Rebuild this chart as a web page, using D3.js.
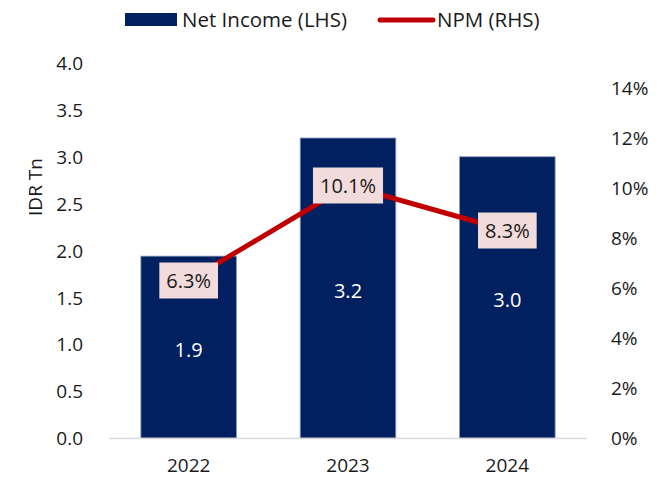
<!DOCTYPE html>
<html>
<head>
<meta charset="utf-8">
<script src="https://cdn.jsdelivr.net/npm/d3@7"></script>
<style>
  body { margin: 0; background: #fff; }
  text { font-family: "Open Sans", "Noto Sans", sans-serif; fill: #1a1a1a; }
</style>
</head>
<body>
<div id="chart"></div>
<script>
// chart data
const years = ["2022", "2023", "2024"];
const netIncome = [1.94, 3.2, 3.0];
const netIncomeLabels = ["1.9", "3.2", "3.0"];
const npm = [6.3, 10.1, 8.3];
const leftTicks = [0, 0.5, 1, 1.5, 2, 2.5, 3, 3.5, 4];
const rightTicks = [0, 2, 4, 6, 8, 10, 12, 14];

const width = 668, height = 484;
const margin = {left: 109, right: 81, top: 63, bottom: 46};

let svg = d3.select("#chart").append("svg")
    .attr("width", width)
    .attr("height", height);

let x = d3.scaleBand()
    .domain(years)
    .range([margin.left, width - margin.right])
    .paddingInner(0.4)
    .paddingOuter(0.2);

let yL = d3.scaleLinear()
    .domain([0, 4])
    .range([height - margin.bottom, margin.top]);

let yR = d3.scaleLinear()
    .domain([0, 15])
    .range([height - margin.bottom, margin.top]);

// left axis
let gl = svg.append("g")
    .attr("transform", "translate(" + (margin.left - 23) + ",0)")
    .call(d3.axisLeft(yL).tickValues(leftTicks).tickFormat(d3.format(".1f")).tickSize(0));
gl.select(".domain").remove();
gl.selectAll("text").style("font-size", "19px").attr("dy", "0.35em");

// right axis
let gr = svg.append("g")
    .attr("transform", "translate(" + (width - margin.right + 21) + ",0)")
    .call(d3.axisRight(yR).tickValues(rightTicks).tickFormat(d => d + "%").tickSize(0));
gr.select(".domain").remove();
gr.selectAll("text").style("font-size", "19px").attr("dy", "0.35em");

// y title
svg.append("text")
    .attr("transform", "translate(35,187)rotate(-90)")
    .attr("text-anchor", "middle")
    .attr("dy", "0.35em")
    .style("font-size", "19px")
    .text("IDR Tn");

// bars
svg.selectAll(".bar")
    .data(netIncome)
    .enter().append("rect")
    .attr("class", "bar")
    .attr("x", (d, i) => x(years[i]))
    .attr("y", d => yL(d))
    .attr("width", x.bandwidth())
    .attr("height", d => yL(0) - yL(d))
    .attr("fill", "#002060")
    .attr("stroke", "#8a9cc0")
    .attr("stroke-width", 0.8);

// x baseline
svg.append("line")
    .attr("x1", margin.left).attr("x2", width - margin.right)
    .attr("y1", yL(0) + 0.5).attr("y2", yL(0) + 0.5)
    .attr("stroke", "#d9d9d9")
    .attr("stroke-width", 1.5);

// x labels
let gx = svg.append("g")
    .attr("transform", "translate(0," + (yL(0) + 14) + ")")
    .call(d3.axisBottom(x).tickSize(0));
gx.select(".domain").remove();
gx.selectAll("text").style("font-size", "19px").attr("dy", "0.9em");

// bar value labels
svg.selectAll(".barlabel")
    .data(netIncome)
    .enter().append("text")
    .attr("class", "barlabel")
    .attr("x", (d, i) => x(years[i]) + x.bandwidth() / 2)
    .attr("y", d => (yL(d) + yL(0)) / 2 + 3)
    .attr("text-anchor", "middle")
    .attr("dy", "0.35em")
    .style("font-size", "20px")
    .style("fill", "#fff")
    .text((d, i) => netIncomeLabels[i]);

// NPM line
let line = d3.line()
    .x((d, i) => x(years[i]) + x.bandwidth() / 2)
    .y(d => yR(d));

svg.append("path")
    .datum(npm)
    .attr("d", line)
    .attr("fill", "none")
    .attr("stroke", "#c00000")
    .attr("stroke-width", 5);

// NPM labels
let lab = svg.selectAll(".npmlabel")
    .data(npm)
    .enter().append("g")
    .attr("class", "npmlabel")
    .attr("transform", (d, i) => "translate(" + (x(years[i]) + x.bandwidth() / 2) + "," + yR(d) + ")");

lab.append("text")
    .attr("text-anchor", "middle")
    .attr("dy", "0.35em")
    .style("font-size", "20px")
    .text(d => d.toFixed(1) + "%");

lab.each(function() {
    let g = d3.select(this);
    let bb = g.select("text").node().getBBox();
    g.insert("rect", "text")
        .attr("x", bb.x - 7)
        .attr("y", -18)
        .attr("width", bb.width + 14)
        .attr("height", 36)
        .attr("fill", "#f2dcdb");
});

// legend
let leg = svg.append("g");
leg.append("rect")
    .attr("x", 125).attr("y", 13)
    .attr("width", 52).attr("height", 13)
    .attr("fill", "#002060");
leg.append("text")
    .attr("x", 182).attr("y", 20)
    .attr("dy", "0.35em")
    .style("font-size", "20.5px")
    .text("Net Income (LHS)");
leg.append("line")
    .attr("x1", 380).attr("x2", 433)
    .attr("y1", 20).attr("y2", 20)
    .attr("stroke", "#c00000")
    .attr("stroke-width", 5)
    .attr("stroke-linecap", "round");
leg.append("text")
    .attr("x", 437).attr("y", 20)
    .attr("dy", "0.35em")
    .style("font-size", "20.5px")
    .text("NPM (RHS)");
</script>
</body>
</html>
